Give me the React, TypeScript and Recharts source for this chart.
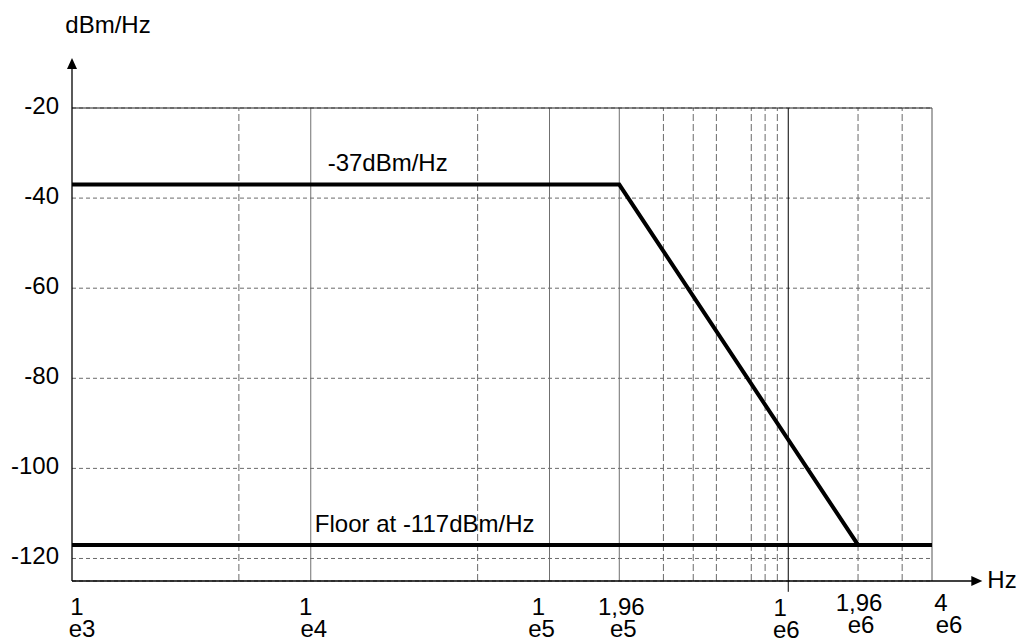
import React from 'react'
import {
  ComposedChart,
  Line,
  XAxis,
  YAxis,
  CartesianGrid,
  ReferenceLine,
  ReferenceDot,
} from 'recharts'

// frequency axis (Hz, log) and level axis (dBm/Hz)
const xTicks = [1e3, 1e4, 1e5, 1.96e5, 1e6, 1.96e6, 4e6]
const xTickTop = ['1', '1', '1', '1,96', '1', '1,96', '4']
const xTickBottom = ['e3', 'e4', 'e5', 'e5', 'e6', 'e6', 'e6']
const yTicks = [-120, -100, -80, -60, -40, -20]

// PSD mask and noise floor
const maskFreq = [1e3, 1.96e5, 1.96e6, 4e6]
const maskLevel = [-37, -37, -117, -117]
const floorFreq = [1e3, 4e6]
const floorLevel = [-117, -117]

// vertical grid
const solidGridX = [1e4, 1e5, 1.96e5]
const dashedGridX = [5e3, 5e4, 3e5, 4e5, 5e5, 7e5, 8e5, 9e5, 1.96e6, 3e6]

const maskLabel = '-37dBm/Hz'
const floorLabel = 'Floor at -117dBm/Hz'

const FONT = '"Liberation Sans", Arial, Helvetica, sans-serif'
const GRID = '#6a6a6a'

// hand placement of the two-line tick labels: [dx line 1, dx line 2, dy]
const TICK_NUDGE = [
  [5, 10, 0],
  [-5, 3, 0],
  [-11, -8, 0],
  [2, 4, 0],
  [-8, -2, 1],
  [1, 3, -4],
  [9, 17, -4],
]

const maskData = maskFreq.map((f, i) => ({ f, v: maskLevel[i] }))
const floorData = floorFreq.map((f, i) => ({ f, v: floorLevel[i] }))

function XTick(props: any) {
  const { x, y, index } = props
  const [d1, d2, dy] = TICK_NUDGE[index] || [0, 0, 0]
  return (
    <g>
      <text x={x + d1} y={y + 34 + dy} textAnchor="middle" fontSize={24} fontFamily={FONT} fill="#000">
        {xTickTop[index]}
      </text>
      <text x={x + d2} y={y + 56 + dy} textAnchor="middle" fontSize={24} fontFamily={FONT} fill="#000">
        {xTickBottom[index]}
      </text>
    </g>
  )
}

function YArrow(p: any) {
  const x = p.x1
  const bottom = Math.max(p.y1, p.y2)
  const tip = Math.min(p.y1, p.y2)
  return (
    <g>
      <line x1={x} y1={bottom} x2={x} y2={tip + 8} stroke="#000" strokeWidth={1.3} />
      <polygon points={`${x},${tip} ${x - 5},${tip + 11} ${x + 5},${tip + 11}`} fill="#000" />
      <text x={x + 36} y={tip - 25} textAnchor="middle" fontSize={24} fontFamily={FONT} fill="#000">
        dBm/Hz
      </text>
    </g>
  )
}

function XArrow(p: any) {
  const y = p.y1
  const left = Math.min(p.x1, p.x2)
  const tip = Math.max(p.x1, p.x2)
  return (
    <g>
      <line x1={left} y1={y} x2={tip - 8} y2={y} stroke="#000" strokeWidth={1.3} />
      <polygon points={`${tip},${y} ${tip - 11},${y - 5} ${tip - 11},${y + 5}`} fill="#000" />
      <text x={tip + 5} y={y + 7} fontSize={24} fontFamily={FONT} fill="#000">
        Hz
      </text>
    </g>
  )
}

const annotation = (text: string, lift: number) => (p: any) => (
  <text x={p.cx} y={p.cy - lift} textAnchor="middle" fontSize={24} fontFamily={FONT} fill="#000">
    {text}
  </text>
)

export default function App() {
  return (
    <div style={{ position: 'absolute', left: 0, top: 0, background: '#fff' }}>
      <ComposedChart width={1020} height={638} margin={{ top: 108, right: 88, bottom: 0, left: 0 }}>
        <CartesianGrid vertical={false} stroke={GRID} strokeDasharray="4 3" />
        <XAxis
          dataKey="f"
          type="number"
          scale="log"
          domain={[1e3, 4e6]}
          allowDataOverflow
          ticks={xTicks}
          interval={0}
          tick={<XTick />}
          tickLine={false}
          axisLine={false}
          tickSize={0}
          tickMargin={0}
          height={57}
        />
        <YAxis
          type="number"
          domain={[-125, -20]}
          allowDataOverflow
          ticks={yTicks}
          interval={0}
          width={72}
          tickLine={false}
          axisLine={false}
          tickSize={0}
          tickMargin={13}
          tick={{ fontSize: 24, fill: '#000', fontFamily: FONT, dy: -3 }}
        />

        {dashedGridX.map((v) => (
          <ReferenceLine key={'d' + v} x={v} stroke={GRID} strokeDasharray="7 3" />
        ))}
        {solidGridX.map((v) => (
          <ReferenceLine key={'s' + v} x={v} stroke="#707070" />
        ))}
        <ReferenceLine
          segment={[{ x: 1e6, y: -127.4 }, { x: 1e6, y: -20 }]}
          ifOverflow="visible"
          stroke="#000"
        />
        <ReferenceLine y={-20} stroke="#222" />
        <ReferenceLine x={4e6} stroke="#555" />

        <ReferenceLine
          segment={[{ x: 1e3, y: -125 }, { x: 1e3, y: -8.9 }]}
          ifOverflow="visible"
          shape={YArrow}
        />
        <ReferenceLine
          segment={[{ x: 1e3, y: -125 }, { x: 6.5e6, y: -125 }]}
          ifOverflow="visible"
          shape={XArrow}
        />

        <Line
          data={maskData}
          dataKey="v"
          type="linear"
          stroke="#000"
          strokeWidth={4}
          dot={false}
          isAnimationActive={false}
        />
        <Line
          data={floorData}
          dataKey="v"
          type="linear"
          stroke="#000"
          strokeWidth={4}
          dot={false}
          isAnimationActive={false}
        />

        <ReferenceDot x={2.1e4} y={-37} r={0} ifOverflow="visible" shape={annotation(maskLabel, 14)} />
        <ReferenceDot x={3.0e4} y={-117} r={0} ifOverflow="visible" shape={annotation(floorLabel, 13)} />
      </ComposedChart>
    </div>
  )
}
